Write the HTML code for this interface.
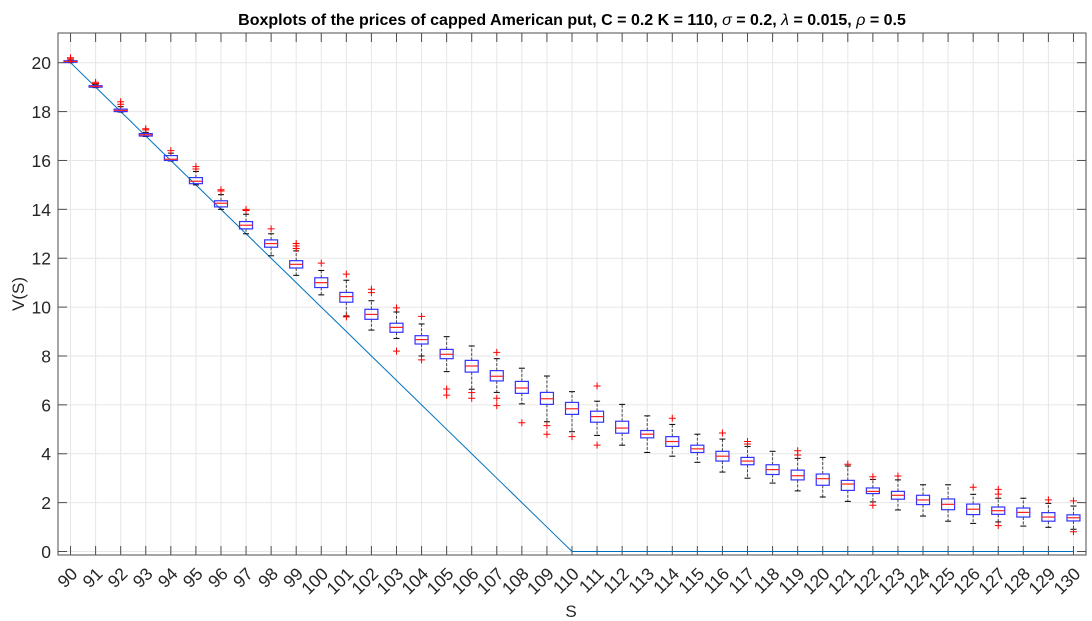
<!DOCTYPE html>
<html><head><meta charset="utf-8"><style>
body{margin:0;background:#fff;}
svg{display:block;font-family:"Liberation Sans",sans-serif;}
</style></head><body>
<svg id="chart" width="1092" height="621" viewBox="0 0 1092 621">
<rect width="1092" height="621" fill="#fff"/>
<text x="572" y="25" text-anchor="middle" font-weight="bold" font-size="16">Boxplots of the prices of capped American put, C = 0.2 K = 110, <tspan font-style="italic" font-weight="normal">σ</tspan> = 0.2, <tspan font-style="italic" font-weight="normal">λ</tspan> = 0.015, <tspan font-style="italic" font-weight="normal">ρ</tspan> = 0.5</text>
<g id="grid"></g><g id="axes"></g><g id="marks"></g>
<text transform="translate(24,294) rotate(-90)" text-anchor="middle" font-size="17" fill="#262626">V(S)</text>
<text x="571" y="617" text-anchor="middle" font-size="17" fill="#262626">S</text>
</svg>
<script>
const categories=[90,91,92,93,94,95,96,97,98,99,100,101,102,103,104,105,106,107,108,109,110,111,112,113,114,115,116,117,118,119,120,121,122,123,124,125,126,127,128,129,130];
const medians=[20.05,19.03,18.05,17.05,16.05,15.15,14.25,13.35,12.6,11.75,11.0,10.43,9.7,9.17,8.67,8.07,7.59,7.17,6.69,6.25,5.84,5.52,5.05,4.8,4.5,4.2,3.9,3.7,3.35,3.1,2.98,2.76,2.46,2.3,2.11,1.93,1.73,1.67,1.6,1.41,1.38];
const q1=[20.02,19.0,18.0,17.0,16.0,15.05,14.1,13.2,12.45,11.6,10.8,10.2,9.5,8.97,8.49,7.89,7.34,6.98,6.47,6.02,5.61,5.29,4.84,4.65,4.3,4.05,3.7,3.55,3.15,2.93,2.71,2.5,2.37,2.14,1.92,1.71,1.51,1.52,1.41,1.24,1.25];
const q3=[20.08,19.06,18.1,17.1,16.2,15.3,14.35,13.5,12.75,11.9,11.2,10.6,9.91,9.34,8.83,8.27,7.82,7.4,6.96,6.51,6.1,5.74,5.33,4.95,4.7,4.35,4.1,3.85,3.55,3.33,3.17,2.91,2.6,2.46,2.3,2.15,1.94,1.82,1.78,1.59,1.5];
const whiskerLow=[20.0,18.98,17.98,16.98,15.98,15.0,14.0,13.0,12.1,11.3,10.5,9.64,9.06,8.72,8.0,7.36,6.64,6.51,6.04,5.31,4.9,4.75,4.35,4.05,3.9,3.65,3.25,3.0,2.8,2.48,2.23,2.05,2.03,1.7,1.45,1.24,1.15,1.21,1.04,0.99,0.91];
const whiskerHigh=[20.1,19.1,18.2,17.15,16.3,15.55,14.6,13.8,13.0,12.3,11.5,11.1,10.26,9.8,9.31,8.79,8.41,7.89,7.5,7.18,6.54,6.15,6.02,5.55,5.2,4.8,4.6,4.3,4.1,3.81,3.85,3.5,2.95,2.93,2.73,2.73,2.34,2.18,2.18,1.97,1.86];
const outliers=[[20.15,20.2],[19.15,19.2],[18.3,18.4],[17.25,17.3],[16.4],[15.65,15.75],[14.75,14.8],[13.95,14.0],[13.2],[12.4,12.5,12.6],[11.8],[11.35,9.6],[10.73,10.59],[9.97,8.2],[9.62,7.84],[6.65,6.4],[6.5,6.27],[8.15,6.27,5.97],[5.27],[5.15,4.8],[4.7],[6.77,4.35],[],[],[5.45],[],[4.85],[4.4,4.5],[],[4.12,3.95],[],[3.57],[3.06,1.89],[3.09],[],[],[2.63],[2.54,2.35,1.06],[],[2.11],[2.07,0.81]];
const yTicks=[0,2,4,6,8,10,12,14,16,18,20];
const K=110;
const L=58,R=1086,T=33,B=555;
const xs=v=>L+(v-89.5)*(R-L)/41;
const ys=v=>551.5-v*24.44;
const NS='http://www.w3.org/2000/svg';
function mk(parent,tag,attrs){const e=document.createElementNS(NS,tag);for(const k in attrs)e.setAttribute(k,attrs[k]);parent.appendChild(e);return e;}
const grid=document.getElementById('grid'),axes=document.getElementById('axes'),marks=document.getElementById('marks');
categories.forEach(c=>{const x=xs(c);
 const g=mk(grid,'line',{x1:x,x2:x,y1:T,y2:B,stroke:'#e6e6e6','stroke-width':1});
 
 
 mk(axes,'line',{x1:x,x2:x,y1:B,y2:B-9,stroke:'#4d4d4d'});
 mk(axes,'line',{x1:x,x2:x,y1:T,y2:T+9,stroke:'#4d4d4d'});
 const t=mk(axes,'text',{transform:`translate(${x+8},${575}) rotate(-45)`,'text-anchor':'end','font-size':17.5,fill:'#262626'});
 t.textContent=c;
 
 
});
yTicks.forEach(v=>{const y=ys(v);
 const g=mk(grid,'line',{x1:L,x2:R,y1:y,y2:y,stroke:'#e6e6e6','stroke-width':1});
 
 
 mk(axes,'line',{x1:L,x2:L+9,y1:y,y2:y,stroke:'#4d4d4d'});
 mk(axes,'line',{x1:R,x2:R-9,y1:y,y2:y,stroke:'#4d4d4d'});
 const t=mk(axes,'text',{x:L-7,y:y+6.5,'text-anchor':'end','font-size':17.5,fill:'#262626'});
 t.textContent=v;
 
 
});
const fr=mk(axes,'rect',{x:L,y:T,width:R-L,height:B-T,fill:'none',stroke:'#4d4d4d'});


const pts=categories.map(c=>`${xs(c)},${ys(Math.max(K-c,0))}`).join(' ');
const pl=mk(marks,'polyline',{points:pts,fill:'none',stroke:'#0072BD','stroke-width':1});


categories.forEach((c,i)=>{const x=xs(c),hw=6.5,cw=3;
 const g=mk(marks,'g',{});
 
 
 mk(g,'line',{x1:x,x2:x,y1:ys(q3[i]),y2:ys(whiskerHigh[i]),stroke:'#000','stroke-dasharray':'3,1.5','stroke-opacity':0.7});
 mk(g,'line',{x1:x,x2:x,y1:ys(q1[i]),y2:ys(whiskerLow[i]),stroke:'#000','stroke-dasharray':'3,1.5','stroke-opacity':0.7});
 mk(g,'line',{x1:x-cw,x2:x+cw,y1:ys(whiskerHigh[i]),y2:ys(whiskerHigh[i]),stroke:'#000'});
 mk(g,'line',{x1:x-cw,x2:x+cw,y1:ys(whiskerLow[i]),y2:ys(whiskerLow[i]),stroke:'#000'});
 mk(g,'rect',{x:x-hw,y:ys(q3[i]),width:2*hw,height:Math.max(ys(q1[i])-ys(q3[i]),1.5),fill:'none',stroke:'#3333ff','stroke-width':1.2});
 mk(g,'line',{x1:x-hw,x2:x+hw,y1:ys(medians[i]),y2:ys(medians[i]),stroke:'#ff2020','stroke-width':1.2});
 outliers[i].forEach(o=>{const y=ys(o);
  mk(g,'path',{d:`M${x-3.5},${y}H${x+3.5}M${x},${y-3.5}V${y+3.5}`,stroke:'#ff0000','stroke-width':1});
 });
});
</script>
</body></html>
